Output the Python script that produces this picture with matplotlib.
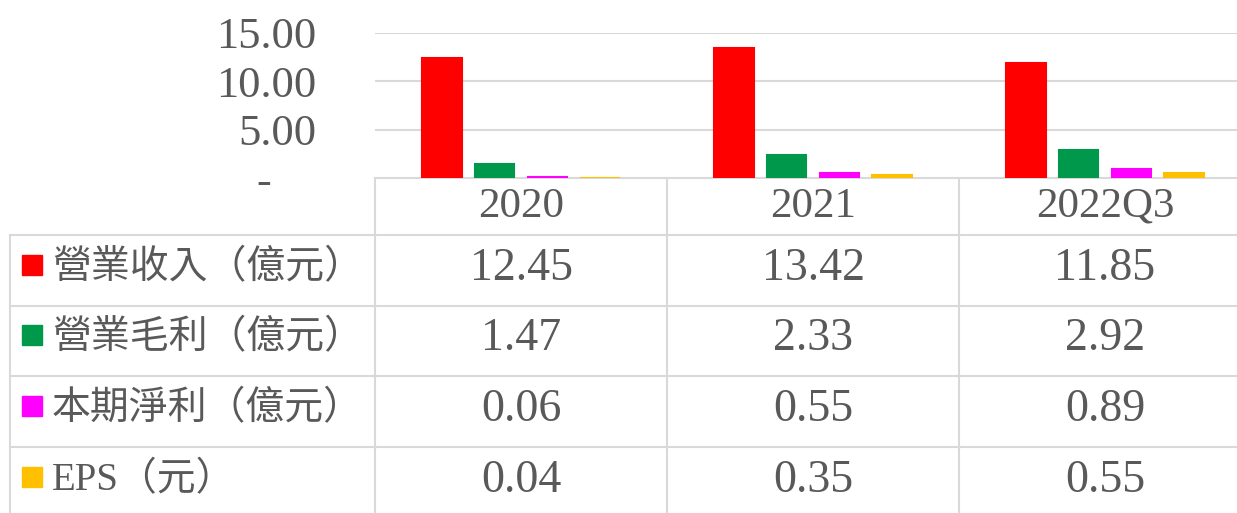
import matplotlib
matplotlib.use('Agg')
import matplotlib.pyplot as plt
import numpy as np

# data
categories = ['2020', '2021', '2022Q3']
series_names = ['營業收入（億元）', '營業毛利（億元）', '本期淨利（億元）', 'EPS（元）']
revenue = [12.45, 13.42, 11.85]
gross_profit = [1.47, 2.33, 2.92]
net_profit = [0.06, 0.55, 0.89]
eps = [0.04, 0.35, 0.55]
series_colors = ['#FF0000', '#00994C', '#FF00FF', '#FFC000']
yticks = [0, 5, 10, 15]
ytick_labels = ['-\u2007\u2007', '5.00', '10.00', '15.00']

series = [revenue, gross_profit, net_profit, eps]

W, H = 1237, 513
fonts = ['Liberation Serif', 'Noto Sans CJK TC', 'DejaVu Sans']
plt.rcParams['font.family'] = fonts
text_col = '#595959'
line_col = '#D9D9D9'

fig = plt.figure(figsize=(W / 100, H / 100), dpi=100)

# chart area: one table column per category, right column runs off the picture
x0, col_w = 375, 292
y_top, y_zero = 33, 178
ax = fig.add_axes([x0 / W, 1 - y_zero / H, 3 * col_w / W, (y_zero - y_top) / H])
x = np.arange(len(categories))
offsets = [-0.27, -0.09, 0.09, 0.27]
for vals, off, c in zip(series, offsets, series_colors):
    # thin outline in the fill colour, like Excel, keeps tiny bars visible
    ax.bar(x + off, vals, width=0.135, color=c, edgecolor=c, linewidth=1.5, zorder=3)
ax.set_xlim(-0.5, len(categories) - 0.5)
ax.set_ylim(0, 15)
ax.set_yticks(yticks)
ax.set_yticklabels(ytick_labels, fontsize=32, color=text_col)
ax.tick_params(axis='y', length=0, pad=42)
ax.set_xticks([])
ax.grid(axis='y', color=line_col, linewidth=1.5, zorder=0)
for s in ax.spines.values():
    s.set_visible(False)

# data table underneath, drawn in pixel coordinates
tb = fig.add_axes([0, 0, 1, 1], zorder=-1)
tb.set_xlim(0, W)
tb.set_ylim(H, 0)
tb.axis('off')

col_edges = [x0 + i * col_w for i in range(len(categories) + 1)]
row_edges = [178, 235, 306, 376, 447, 518]
left_edge = 10

tb.plot([x0, W], [row_edges[0]] * 2, color=line_col, lw=1.5)
for yy in row_edges[1:]:
    tb.plot([left_edge, W], [yy, yy], color=line_col, lw=1.5)
tb.plot([left_edge, left_edge], [row_edges[1], H], color=line_col, lw=1.5)
for xx in col_edges[:-1]:
    tb.plot([xx, xx], [row_edges[0], H], color=line_col, lw=1.5)

for i, cat in enumerate(categories):
    cx = (col_edges[i] + col_edges[i + 1]) / 2
    tb.text(cx, (row_edges[0] + row_edges[1]) / 2, cat, ha='center', va='center',
            fontsize=31, color=text_col)

for r, (name, vals, c) in enumerate(zip(series_names, series, series_colors)):
    cy = (row_edges[r + 1] + row_edges[r + 2]) / 2
    tb.add_patch(plt.Rectangle((22, cy - 16), 20, 20, color=c))
    tb.text(52, cy - 2, name, ha='left', va='center', fontsize=28, color=text_col)
    for i, v in enumerate(vals):
        cx = (col_edges[i] + col_edges[i + 1]) / 2
        tb.text(cx, cy - 2, '%.2f' % v, ha='center', va='center', fontsize=33, color=text_col)

fig.savefig('out.png', dpi=100)
